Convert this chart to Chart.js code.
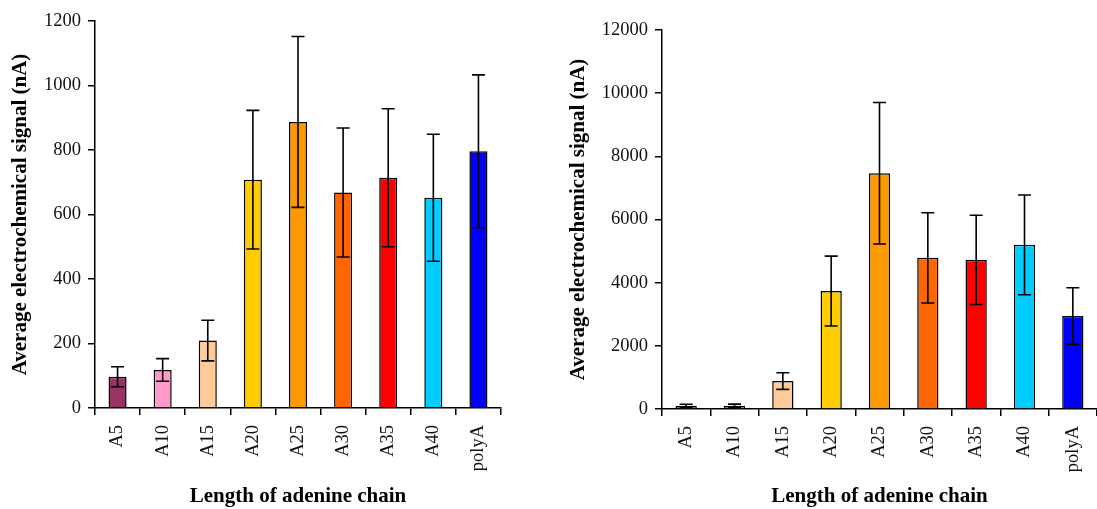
<!DOCTYPE html>
<html>
<head>
<meta charset="utf-8">
<script src="https://cdn.jsdelivr.net/npm/chart.js@4/dist/chart.umd.min.js"></script>
<style>
  html, body { margin: 0; padding: 0; background: #fff; }
  #wrap { position: relative; width: 1097px; height: 509px; overflow: hidden; }
  #c1 { position: absolute; left: 0; top: 0; }
  #c2 { position: absolute; left: 548px; top: 0; }
</style>
</head>
<body>
<div id="wrap">
  <canvas id="c1" width="548" height="509"></canvas>
  <canvas id="c2" width="549" height="509"></canvas>
</div>
<script>
const categories = ['A5', 'A10', 'A15', 'A20', 'A25', 'A30', 'A35', 'A40', 'polyA'];

const leftValues = [97, 118, 209, 708, 887, 668, 714, 652, 796];
const leftErrors = [31, 35, 63, 215, 265, 200, 214, 197, 237];
const leftColors = ['#993366', '#FF99CC', '#FFCC99', '#FFCC00', '#FF9900', '#FF6600', '#FF0000', '#00CCFF', '#0000FF'];
const leftTicks = { min: 0, max: 1200, step: 200 };

const rightValues = [105, 100, 886, 3733, 7466, 4786, 4723, 5198, 2942];
const rightErrors = [45, 55, 264, 1107, 2240, 1430, 1413, 1580, 895];
const rightColors = ['#7070DC', '#7070DC', '#FFCC99', '#FFCC00', '#FF9900', '#FF6600', '#FF0000', '#00CCFF', '#0000FF'];
const rightTicks = { min: 0, max: 12000, step: 2000 };

const yTitle = 'Average electrochemical signal (nA)';
const xTitle = 'Length of adenine chain';

const FONT = "'Liberation Serif', 'Times New Roman', serif";

const errorBarPlugin = {
  id: 'errorBars',
  afterDatasetsDraw(chart) {
    const errs = chart.options.plugins.errorBars.errors;
    const vals = chart.data.datasets[0].data;
    const meta = chart.getDatasetMeta(0);
    const y = chart.scales.y;
    const ctx = chart.ctx;
    ctx.save();
    ctx.strokeStyle = '#000';
    ctx.lineWidth = 1.6;
    const cap = 6.5;
    meta.data.forEach((bar, i) => {
      const x = bar.x;
      const yt = y.getPixelForValue(vals[i] + errs[i]);
      const yb = y.getPixelForValue(Math.max(0, vals[i] - errs[i]));
      ctx.beginPath();
      ctx.moveTo(x, yt); ctx.lineTo(x, yb);
      ctx.moveTo(x - cap, yt); ctx.lineTo(x + cap, yt);
      ctx.moveTo(x - cap, yb); ctx.lineTo(x + cap, yb);
      ctx.stroke();
    });
    ctx.restore();
  }
};

function makeChart(id, values, errors, colors, ticks, cfg) {
  return new Chart(document.getElementById(id), {
    type: 'bar',
    data: {
      labels: categories,
      datasets: [{
        data: values,
        backgroundColor: colors,
        borderColor: '#000',
        borderWidth: 1.5,
        barPercentage: cfg.barPct,
        categoryPercentage: 1
      }]
    },
    options: {
      responsive: false,
      animation: false,
      devicePixelRatio: 1,
      layout: { padding: cfg.padding },
      plugins: {
        legend: { display: false },
        tooltip: { enabled: false },
        errorBars: { errors: errors }
      },
      scales: {
        x: {
          offset: true,
          grid: { display: true, drawOnChartArea: false, drawTicks: true, tickLength: 7, color: '#000', lineWidth: 1.5, offset: true },
          border: { display: true, color: '#000', width: 1.5 },
          ticks: {
            autoSkip: false, maxRotation: 90, minRotation: 90, padding: 10,
            color: '#111', font: { family: FONT, size: 18.5 }
          },
          title: {
            display: true, text: xTitle, color: '#000',
            font: { family: FONT, size: 21, weight: 'bold' },
            padding: { top: 0, bottom: 0 }
          },
          afterFit(scale) {
            scale.height = cfg.xHeight;
            scale.paddingLeft = 0;
            scale.paddingRight = 0;
          }
        },
        y: {
          min: ticks.min, max: ticks.max,
          grid: { display: true, drawOnChartArea: false, drawTicks: true, tickLength: 7, color: '#000', lineWidth: 1.5 },
          border: { display: true, color: '#000', width: 1.5 },
          ticks: {
            stepSize: ticks.step, padding: 7, color: '#111',
            font: { family: FONT, size: 18.5 },
            callback: v => String(v)
          },
          title: {
            display: true, text: yTitle, color: '#000',
            font: { family: FONT, size: 21, weight: 'bold' },
            padding: { top: 8, bottom: 0 }
          },
          afterFit(scale) { scale.width = cfg.yWidth; }
        }
      }
    },
    plugins: [errorBarPlugin]
  });
}

makeChart('c1', leftValues, leftErrors, leftColors, leftTicks, {
  barPct: 0.4, padding: { left: 0, right: 47, top: 21, bottom: 0 }, xHeight: 101, yWidth: 95
});
makeChart('c2', rightValues, rightErrors, rightColors, rightTicks, {
  barPct: 0.44, padding: { left: 10, right: 0, top: 30, bottom: 0 }, xHeight: 100, yWidth: 104
});
</script>
</body>
</html>
